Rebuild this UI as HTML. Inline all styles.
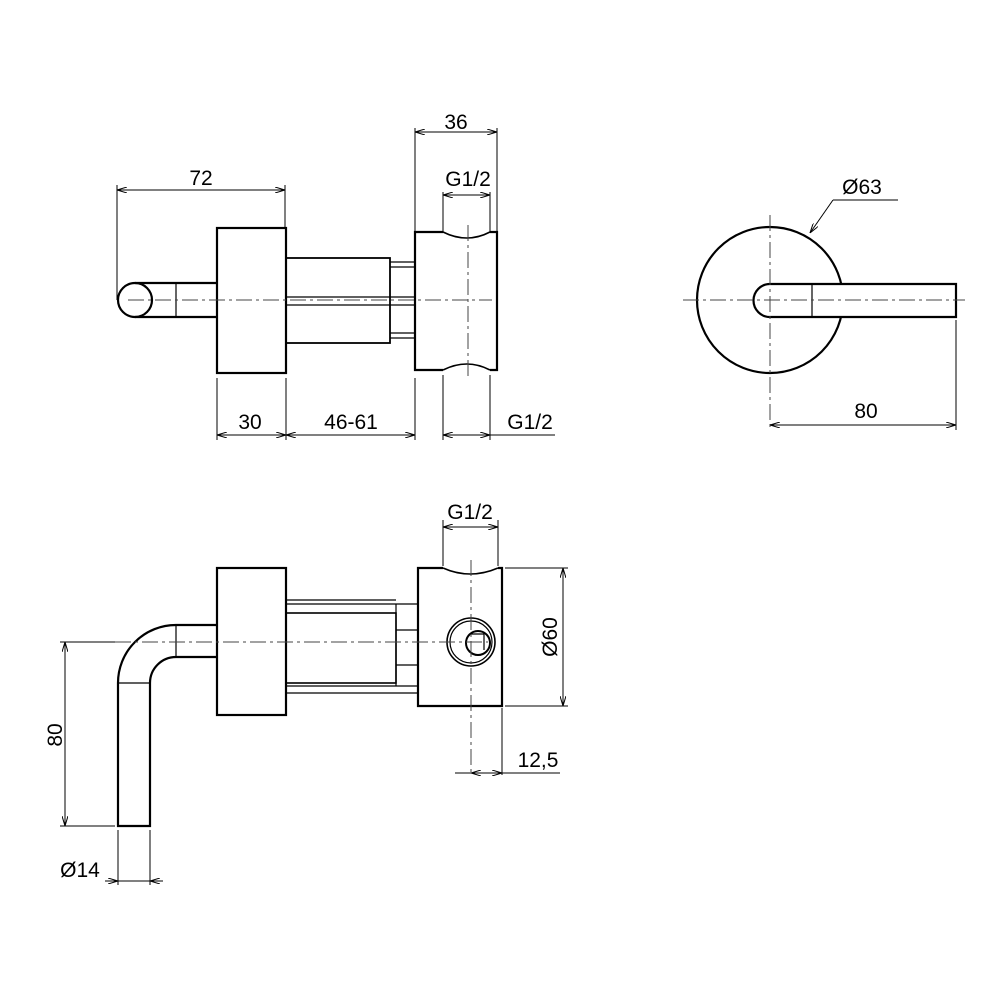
<!DOCTYPE html>
<html><head><meta charset="utf-8"><style>html,body{margin:0;background:#fff}svg{display:block}</style></head>
<body>
<svg width="1000" height="1000" viewBox="0 0 1000 1000" xmlns="http://www.w3.org/2000/svg" font-family="Liberation Sans, sans-serif" font-size="21" fill="none">
<defs>
<marker id="a" viewBox="0 0 10 6" refX="10" refY="3" markerWidth="10" markerHeight="6" orient="auto-start-reverse" markerUnits="userSpaceOnUse"><path d="M0,0 L10,3 L0,6" fill="none" stroke="#000" stroke-width="1"/></marker>
</defs>
<g stroke="#000" stroke-width="2.2">
<circle cx="135" cy="300" r="17"/>
<line x1="135" y1="283" x2="217" y2="283"/><line x1="135" y1="317" x2="217" y2="317"/>
<line x1="176" y1="283" x2="176" y2="317" stroke-width="1.2"/>
<rect x="217" y="228" width="69" height="145"/>
<rect x="286" y="258" width="104" height="85" stroke-width="1.8"/>
<line x1="286" y1="297" x2="415" y2="297" stroke-width="1.2"/><line x1="286" y1="305" x2="415" y2="305" stroke-width="1.2"/>
<line x1="390" y1="262" x2="415" y2="262" stroke-width="1.2"/><line x1="390" y1="267" x2="415" y2="267" stroke-width="1.2"/>
<line x1="390" y1="333" x2="415" y2="333" stroke-width="1.2"/><line x1="390" y1="338" x2="415" y2="338" stroke-width="1.2"/>
<path d="M443,232 L415,232 L415,370 L443,370 M490,232 L497,232 L497,370 L490,370"/>
<path d="M443,232 Q467,244 490,232 M443,370 Q467,358 490,370" stroke-width="1.6"/>
<circle cx="770" cy="300" r="73"/>
<path d="M770,284 A16.5,16.5 0 0 0 770,317 L956,317 L956,284 Z" fill="#fff"/>
<line x1="812" y1="284" x2="812" y2="317" stroke-width="1.2"/>
<rect x="217" y="568" width="69" height="147"/>
<line x1="286" y1="600" x2="396" y2="600" stroke-width="1.2"/><line x1="286" y1="604" x2="418" y2="604" stroke-width="1.2"/>
<rect x="286" y="613" width="110" height="70" stroke-width="1.6"/>
<line x1="286" y1="686" x2="418" y2="686" stroke-width="1.2"/><line x1="286" y1="693" x2="418" y2="693" stroke-width="1.2"/>
<line x1="396" y1="630" x2="418" y2="630" stroke-width="1.2"/><line x1="396" y1="665" x2="418" y2="665" stroke-width="1.2"/>
<line x1="396" y1="604" x2="396" y2="686" stroke-width="1.2"/>
<path d="M443,568 L418,568 L418,706 L502,706 L502,568 L498,568"/>
<path d="M443,568 Q470,580 498,568" stroke-width="1.6"/>
<circle cx="471" cy="642" r="24" stroke-width="1.6"/><circle cx="471" cy="642" r="21" stroke-width="1.2"/>
<circle cx="478" cy="643" r="12" stroke-width="2"/>
<path d="M470,634 L484,634 L484,650" stroke-width="1.2"/>
<path d="M217,625 L176,625 A58,58 0 0 0 118,683 L118,826 L150,826 L150,683 A26,26 0 0 1 176,657 L217,657"/>
<line x1="176" y1="625" x2="176" y2="657" stroke-width="1.2"/><line x1="118" y1="683" x2="150" y2="683" stroke-width="1.2"/>
</g>
<g stroke="#444" stroke-width="1" stroke-dasharray="16,4,3,4">
<line x1="128" y1="300" x2="492" y2="300"/>
<line x1="468" y1="225" x2="468" y2="380"/>
<line x1="683" y1="300" x2="965" y2="300"/>
<line x1="770" y1="215" x2="770" y2="430"/>
<line x1="115" y1="642" x2="488" y2="642"/>
<line x1="471" y1="560" x2="471" y2="775"/>
</g>
<g stroke="#000" stroke-width="1">
<line x1="117" y1="185" x2="117" y2="300"/><line x1="285" y1="185" x2="285" y2="227"/>
<line x1="117" y1="190" x2="285" y2="190" marker-start="url(#a)" marker-end="url(#a)"/>
<line x1="415" y1="128" x2="415" y2="232"/><line x1="497" y1="128" x2="497" y2="232"/>
<line x1="415" y1="132" x2="497" y2="132" marker-start="url(#a)" marker-end="url(#a)"/>
<line x1="443" y1="192" x2="443" y2="232"/><line x1="490" y1="192" x2="490" y2="232"/>
<line x1="443" y1="195" x2="490" y2="195" marker-start="url(#a)" marker-end="url(#a)"/>
<line x1="217" y1="378" x2="217" y2="440"/><line x1="286" y1="378" x2="286" y2="440"/><line x1="415" y1="378" x2="415" y2="440"/>
<line x1="443" y1="375" x2="443" y2="440"/><line x1="490" y1="375" x2="490" y2="440"/>
<line x1="217" y1="435" x2="286" y2="435" marker-start="url(#a)" marker-end="url(#a)"/>
<line x1="286" y1="435" x2="415" y2="435" marker-start="url(#a)" marker-end="url(#a)"/>
<line x1="443" y1="435" x2="490" y2="435" marker-start="url(#a)" marker-end="url(#a)"/>
<line x1="490" y1="435" x2="555" y2="435"/>
<line x1="956" y1="320" x2="956" y2="430"/>
<line x1="770" y1="425" x2="956" y2="425" marker-start="url(#a)" marker-end="url(#a)"/>
<line x1="833" y1="200" x2="810" y2="233" marker-end="url(#a)"/><line x1="833" y1="200" x2="898" y2="200"/>
<line x1="443" y1="520" x2="443" y2="566"/><line x1="498" y1="520" x2="498" y2="566"/>
<line x1="443" y1="527" x2="498" y2="527" marker-start="url(#a)" marker-end="url(#a)"/>
<line x1="505" y1="568" x2="568" y2="568"/><line x1="505" y1="706" x2="568" y2="706"/>
<line x1="563" y1="568" x2="563" y2="706" marker-start="url(#a)" marker-end="url(#a)"/>
<line x1="502" y1="708" x2="502" y2="775"/>
<line x1="455" y1="773" x2="560" y2="773"/>
<line x1="492" y1="773" x2="502" y2="773" marker-end="url(#a)"/><line x1="481" y1="773" x2="471" y2="773" marker-end="url(#a)"/>
<line x1="60" y1="642" x2="115" y2="642"/><line x1="60" y1="826" x2="115" y2="826"/>
<line x1="65" y1="642" x2="65" y2="826" marker-start="url(#a)" marker-end="url(#a)"/>
<line x1="118" y1="830" x2="118" y2="885"/><line x1="150" y1="830" x2="150" y2="885"/>
<line x1="105" y1="881" x2="163" y2="881"/>
<line x1="108" y1="881" x2="118" y2="881" marker-end="url(#a)"/><line x1="160" y1="881" x2="150" y2="881" marker-end="url(#a)"/>
</g>
<g fill="#000" stroke="none" text-anchor="middle">
<text x="201" y="185">72</text>
<text x="456" y="129">36</text>
<text x="468" y="186">G1/2</text>
<text x="250" y="429">30</text>
<text x="351" y="429">46-61</text>
<text x="530" y="429">G1/2</text>
<text x="866" y="418">80</text>
<text x="862" y="194">Ø63</text>
<text x="470" y="519">G1/2</text>
<text x="538" y="767">12,5</text>
<text x="0" y="0" transform="translate(557,637) rotate(-90)">Ø60</text>
<text x="0" y="0" transform="translate(62,735) rotate(-90)">80</text>
<text x="80" y="877">Ø14</text>
</g>
</svg>
</body></html>
